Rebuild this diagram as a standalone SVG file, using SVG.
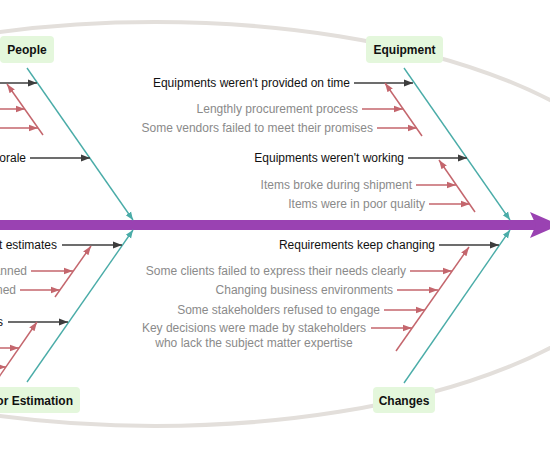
<svg xmlns="http://www.w3.org/2000/svg" width="550" height="450" viewBox="0 0 550 450">
<style>
text{font-family:"Liberation Sans",Arial,sans-serif;font-size:12px}
.cat{font-weight:bold;fill:#111;text-anchor:middle}
.box{fill:#e4f7dc}
.main{fill:#111;text-anchor:end}
.sub{fill:#8a8a8a;text-anchor:end}
.bone{stroke:#4aaca8;stroke-width:1.4;fill:none}
.blk{stroke:#3d3d3d;stroke-width:1.5;fill:none}
.red{stroke:#c4666d;stroke-width:1.5;fill:none}
</style>
<defs>
<marker id="mb" markerUnits="userSpaceOnUse" markerWidth="10" markerHeight="8" refX="9" refY="4" orient="auto"><path d="M0,0.5 L9,4 L0,7.5 z" fill="#3d3d3d"/></marker>
<marker id="mr" markerUnits="userSpaceOnUse" markerWidth="10" markerHeight="8" refX="9" refY="4" orient="auto"><path d="M0,0.8 L9,4 L0,7.2 z" fill="#c4666d"/></marker>
<marker id="mt" markerUnits="userSpaceOnUse" markerWidth="9" markerHeight="8" refX="8" refY="4" orient="auto"><path d="M0,0.8 L8,4 L0,7.2 z" fill="#4aaca8"/></marker>
</defs>
<ellipse cx="155" cy="224" rx="500" ry="202" fill="none" stroke="#e3dfdb" stroke-width="4"/>
<g id="spine">
<line x1="-5" y1="225" x2="536" y2="225" stroke="#9a42b2" stroke-width="10"/>
<polygon points="530,212 560,225 530,238 536,225" fill="#9a42b2"/>
</g>
<g id="connectors">
<line class="bone" x1="27" y1="68" x2="133" y2="220" marker-end="url(#mt)"/>
<line class="bone" x1="404" y1="68" x2="510" y2="220" marker-end="url(#mt)"/>
<line class="bone" x1="27" y1="382" x2="133" y2="230" marker-end="url(#mt)"/>
<line class="bone" x1="404" y1="383" x2="510" y2="230" marker-end="url(#mt)"/>
<line class="blk" x1="-10" y1="83" x2="37" y2="83" marker-end="url(#mb)"/>
<line class="red" x1="43" y1="135" x2="7" y2="84" marker-end="url(#mr)"/>
<line class="red" x1="-10" y1="109" x2="25" y2="109" marker-end="url(#mr)"/>
<line class="red" x1="-10" y1="128" x2="38" y2="128" marker-end="url(#mr)"/>
<line class="blk" x1="30" y1="158" x2="90" y2="158" marker-end="url(#mb)"/>
<line class="blk" x1="354" y1="83" x2="413" y2="83" marker-end="url(#mb)"/>
<line class="red" x1="422" y1="136" x2="385" y2="83" marker-end="url(#mr)"/>
<line class="red" x1="362" y1="109" x2="403" y2="109" marker-end="url(#mr)"/>
<line class="red" x1="377" y1="128" x2="417" y2="128" marker-end="url(#mr)"/>
<line class="blk" x1="408" y1="158" x2="467" y2="158" marker-end="url(#mb)"/>
<line class="red" x1="475" y1="212" x2="439" y2="160" marker-end="url(#mr)"/>
<line class="red" x1="416" y1="185" x2="456" y2="185" marker-end="url(#mr)"/>
<line class="red" x1="429" y1="204" x2="470" y2="204" marker-end="url(#mr)"/>
<line class="blk" x1="62" y1="245" x2="122" y2="245" marker-end="url(#mb)"/>
<line class="red" x1="55" y1="297" x2="91" y2="246" marker-end="url(#mr)"/>
<line class="red" x1="31" y1="271" x2="73" y2="271" marker-end="url(#mr)"/>
<line class="red" x1="20" y1="290" x2="60" y2="290" marker-end="url(#mr)"/>
<line class="blk" x1="8" y1="322" x2="68" y2="322" marker-end="url(#mb)"/>
<line class="red" x1="-10" y1="390" x2="37" y2="322" marker-end="url(#mr)"/>
<line class="red" x1="-20" y1="348" x2="19" y2="348" marker-end="url(#mr)"/>
<line class="red" x1="-20" y1="367" x2="6" y2="367" marker-end="url(#mr)"/>
<line class="blk" x1="439" y1="245" x2="499" y2="245" marker-end="url(#mb)"/>
<line class="red" x1="396" y1="351" x2="469" y2="247" marker-end="url(#mr)"/>
<line class="red" x1="410" y1="271" x2="452" y2="271" marker-end="url(#mr)"/>
<line class="red" x1="397" y1="290" x2="438" y2="290" marker-end="url(#mr)"/>
<line class="red" x1="384" y1="310" x2="425" y2="310" marker-end="url(#mr)"/>
<line class="red" x1="371" y1="328" x2="412" y2="328" marker-end="url(#mr)"/>
</g>
<g id="people"><rect class="box" x="0" y="36" width="54" height="27" rx="4"/><text class="cat" x="27" y="53.5">People</text></g>
<g id="equipment"><rect class="box" x="366" y="36" width="77" height="27" rx="4"/><text class="cat" x="404.5" y="53.5">Equipment</text></g>
<g id="estimation"><rect class="box" x="-26" y="387" width="106" height="26" rx="4"/><text class="cat" x="27" y="404.5">Poor Estimation</text></g>
<g id="changes"><rect class="box" x="373" y="387" width="62" height="26" rx="4"/><text class="cat" x="404" y="404.5">Changes</text></g>
<g id="people-causes">
<text class="main" x="26" y="162">orale</text>
</g>
<g id="equipment-causes">
<text class="main" x="350" y="87">Equipments weren't provided on time</text>
<text class="sub" x="358" y="113">Lengthly procurement process</text>
<text class="sub" x="373" y="132">Some vendors failed to meet their promises</text>
<text class="main" x="404" y="162">Equipments weren't working</text>
<text class="sub" x="412" y="189">Items broke during shipment</text>
<text class="sub" x="425" y="208">Items were in poor quality</text>
</g>
<g id="estimation-causes">
<text class="main" x="57" y="249">t estimates</text>
<text class="sub" x="27" y="275">anned</text>
<text class="sub" x="16" y="294">ned</text>
<text class="main" x="3" y="326">s</text>
</g>
<g id="changes-causes">
<text class="main" x="435" y="249">Requirements keep changing</text>
<text class="sub" x="406" y="275">Some clients failed to express their needs clearly</text>
<text class="sub" x="393" y="294">Changing business environments</text>
<text class="sub" x="380" y="314">Some stakeholders refused to engage</text>
<text class="sub" x="254" y="332" style="text-anchor:middle">Key decisions were made by stakeholders</text>
<text class="sub" x="254" y="347" style="text-anchor:middle">who lack the subject matter expertise</text>
</g>
</svg>
